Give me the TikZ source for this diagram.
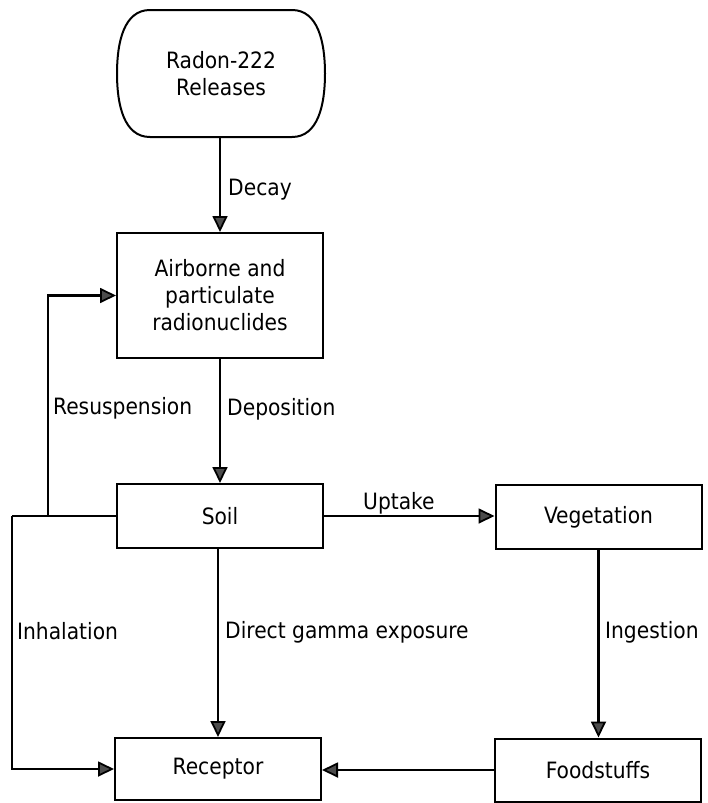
\documentclass[tikz,border=0pt]{standalone}
\usepackage{fontspec}
\setmainfont{DejaVu Sans Condensed}
\usetikzlibrary{arrows.meta}
\begin{document}
\begin{tikzpicture}[x=1pt,y=-1pt,
  every node/.style={font=\fontsize{22.5}{27}\selectfont, inner sep=0pt},
  box/.style={draw, line width=2pt, minimum width=206pt, minimum height=#1, align=center},
  box/.default=64pt,
  flow/.style={line width=2.2pt, -{Triangle[length=16pt,width=15pt,fill=black!70,line width=1.8pt]}},
  plain/.style={line width=2.2pt},
  lbl/.style={anchor=west}]
\useasboundingbox (0,0) rectangle (707,803);

% source terminator
\node[align=center, minimum width=208pt, minimum height=127pt] (src) at (221,74) {Radon-222\\Releases};
\draw[line width=2pt] (150,10) -- (292,10)
  .. controls (318,10) and (325,42) .. (325,73.5)
  .. controls (325,105) and (318,137) .. (292,137)
  -- (150,137)
  .. controls (124,137) and (117,105) .. (117,73.5)
  .. controls (117,42) and (124,10) .. cycle;

% compartments
\node[box=125pt] (air) at (220,295.5) {Airborne and\\particulate\\radionuclides};
\node[box] (soil) at (220,516) {Soil};
\node[box] (veg) at (598.5,517) {Vegetation};
\node[box=62pt] (rec) at (218,769) {Receptor};
\node[box=63pt] (food) at (598,770) {Foodstuffs};

% branch points on the left
\coordinate (jl) at (12,516);
\coordinate (jr) at (48,516);

% connectors
\draw[flow] (src.south -| air.north) -- (air.north);
\draw[flow] (air.south) -- (soil.north);
\draw[flow] (soil.east) -- (soil.east -| veg.west);
\draw[flow] (veg.south) -- (veg.south |- food.north);
\draw[flow] (food.west) -- (food.west -| rec.east);
\draw[flow] (soil.south -| rec.north) -- (rec.north);
\draw[plain] (soil.west) -- (jl);
\draw[flow] (jl) |- (rec.west);
\draw[flow] (jr) |- (air.west);

% labels
\node[lbl] (ldecay) at (228,190) {Decay};
\node[lbl] (lres) at (53,408) {Resuspension};
\node[lbl] (ldep) at (227,409) {Deposition};
\node[lbl] (lup) at (363,503) {Uptake};
\node[lbl] (linh) at (17,631) {Inhalation};
\node[lbl] (lgam) at (225,632) {Direct gamma exposure};
\node[lbl] (ling) at (605,632) {Ingestion};
\end{tikzpicture}
\end{document}
